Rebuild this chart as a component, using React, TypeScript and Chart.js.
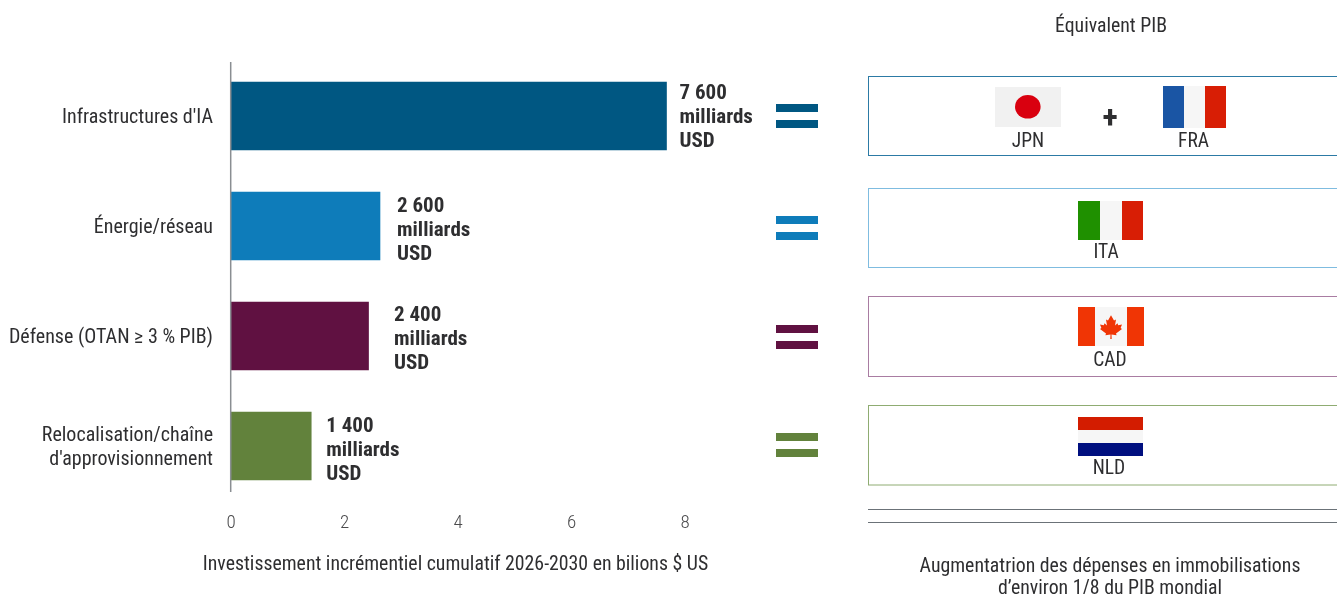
import React, { useEffect, useRef } from "react";
import { Chart, registerables } from "chart.js";

Chart.register(...registerables);

const categories: (string | string[])[] = [
  "Infrastructures d'IA",
  "Énergie/réseau",
  "Défense (OTAN ≥ 3 % PIB)",
  ["Relocalisation/chaîne", "d'approvisionnement"],
];
const investment = [7.6, 2.6, 2.4, 1.4];
const valueLabels = ["7 600", "2 600", "2 400", "1 400"];
const unitLines = ["milliards", "USD"];
const barColors = ["#005782", "#0e7cba", "#601141", "#62823c"];
const boxBorders = ["#2c7aa5", "#7fbce0", "#a97ca2", "#8fac72"];
const axisTitle = "Investissement incrémentiel cumulatif 2026-2030 en bilions $ US";
const rightHeader = "Équivalent PIB";
const rightFooter = ["Augmentatrion des dépenses en immobilisations", "d’environ 1/8 du PIB mondial"];
const FONT = '"Roboto Condensed", Roboto, sans-serif';
const TEXT = "#2e2e30";
const AXIS_TEXT_SHIFT = 1.5;

function rect(ctx: CanvasRenderingContext2D, c: string, x0: number, y0: number, x1: number, y1: number) {
  ctx.fillStyle = c;
  ctx.fillRect(x0, y0, x1 - x0, y1 - y0);
}
function label(ctx: CanvasRenderingContext2D, t: string, x: number, y: number, font = `400 19.8px ${FONT}`, align: CanvasTextAlign = "center", color = TEXT) {
  ctx.font = font;
  ctx.fillStyle = color;
  ctx.textAlign = align;
  ctx.textBaseline = "middle";
  ctx.fillText(t, x, y);
}
const leaf = [
  [0, -13], [-3, -7.5], [-5, -8.5], [-4, -2], [-6.5, -4.5], [-7.2, -2.5], [-11, -3.2], [-9.6, 0.6], [-11, 1.5],
  [-5, 6.3], [-5.6, 8.2], [-0.5, 7.4], [-0.7, 12], [0.7, 12], [0.5, 7.4], [5.6, 8.2], [5, 6.3], [11, 1.5],
  [9.6, 0.6], [11, -3.2], [7.2, -2.5], [6.5, -4.5], [4, -2], [5, -8.5], [3, -7.5],
];

const artwork = {
  id: "artwork",
  beforeDraw(chart: any) {
    chart.ctx.fontStretch = "condensed";
    chart.ctx.translate(0, AXIS_TEXT_SHIFT);
  },
  beforeDatasetsDraw(chart: any) {
    chart.ctx.translate(0, -AXIS_TEXT_SHIFT);
  },
  afterDraw(chart: any) {
    const ctx: CanvasRenderingContext2D = chart.ctx;
    ctx.save();
    ctx.fontStretch = "condensed";
    const bars = chart.getDatasetMeta(0).data;
    // axis line
    ctx.strokeStyle = "#8a8e92";
    ctx.lineWidth = 1.5;
    ctx.beginPath();
    ctx.moveTo(230.7, 62);
    ctx.lineTo(230.7, 492);
    ctx.stroke();

    // axis title
    label(ctx, axisTitle, 455.5, 565.5);

    // value labels
    const gaps = [13, 17, 25.5, 15];
    const targets = [118, 231, 340, 451];
    bars.forEach((b: any, i: number) => {
      const x = b.x + gaps[i];
      const y = targets[i];
      const f = `700 21px ${FONT}`;
      label(ctx, valueLabels[i], x, y - 24, f, "left");
      label(ctx, unitLines[0], x, y, f, "left");
      label(ctx, unitLines[1], x, y + 24, f, "left");
    });

    // equals signs
    [116, 228, 337, 445].forEach((c, i) => {
      rect(ctx, barColors[i], 776, c - 12, 818, c - 4);
      rect(ctx, barColors[i], 776, c + 4, 818, c + 12);
    });

    // boxes
    const boxes = [[76.5, 155.5], [188.5, 267.5], [296.5, 376.5], [405.5, 485]];
    boxes.forEach(([t, b], i) => {
      ctx.strokeStyle = boxBorders[i];
      ctx.lineWidth = 1;
      ctx.strokeRect(868.5, t, 600, b - t);
    });
    ctx.strokeStyle = "#6b7278";
    ctx.lineWidth = 1;
    [509.5, 522.5].forEach((y) => {
      ctx.beginPath();
      ctx.moveTo(868, y);
      ctx.lineTo(1337, y);
      ctx.stroke();
    });

    // Japan
    rect(ctx, "#f1f1f1", 995, 87, 1061, 127);
    ctx.fillStyle = "#d9000f";
    ctx.beginPath();
    ctx.ellipse(1027.8, 106.8, 12.8, 11.8, 0, 0, Math.PI * 2);
    ctx.fill();
    // France
    rect(ctx, "#1a55a4", 1163, 86, 1184, 128);
    rect(ctx, "#f6f6f6", 1184, 86, 1205, 128);
    rect(ctx, "#d81e05", 1205, 86, 1226, 128);
    // Italy
    rect(ctx, "#1f9000", 1078, 201, 1100, 240);
    rect(ctx, "#f6f6f6", 1100, 201, 1122, 240);
    rect(ctx, "#d81e05", 1122, 201, 1143, 240);
    // Canada
    rect(ctx, "#f03505", 1078, 307, 1095, 346);
    rect(ctx, "#f6f6f6", 1095, 307, 1127, 346);
    rect(ctx, "#f03505", 1127, 307, 1144, 346);
    ctx.fillStyle = "#f03505";
    ctx.beginPath();
    leaf.forEach(([x, y], i) => {
      const px = 1111 + x;
      const py = 327.5 + y * 0.95;
      i ? ctx.lineTo(px, py) : ctx.moveTo(px, py);
    });
    ctx.closePath();
    ctx.fill();
    // Netherlands
    rect(ctx, "#d31c00", 1078, 417, 1143, 430);
    rect(ctx, "#f6f6f6", 1078, 430, 1143, 443);
    rect(ctx, "#000f7f", 1078, 443, 1143, 456);

    // country codes
    const code = `400 19.5px ${FONT}`;
    label(ctx, "JPN", 1028, 142, code);
    label(ctx, "FRA", 1193.5, 142, code);
    label(ctx, "ITA", 1106, 253, code);
    label(ctx, "CAD", 1110, 361, code);
    label(ctx, "NLD", 1109, 469, code);
    label(ctx, "+", 1110, 120, `700 32px ${FONT}`);

    label(ctx, rightHeader, 1111, 27);
    label(ctx, rightFooter[0], 1110, 567);
    label(ctx, rightFooter[1], 1110, 589);
    ctx.restore();
  },
};

export default function App() {
  const ref = useRef<HTMLCanvasElement>(null);
  useEffect(() => {
    document.body.style.margin = "0";
    document.body.style.overflow = "hidden";
    const chart = new Chart(ref.current!, {
      type: "bar",
      data: {
        labels: categories as any,
        datasets: [
          {
            data: investment,
            backgroundColor: barColors,
            barThickness: 68,
            xAxisID: "x",
            yAxisID: "y",
          },
        ],
      },
      options: {
        indexAxis: "y",
        animation: false,
        responsive: false,
        devicePixelRatio: 1,
        layout: { padding: { top: 61, right: 652, left: 0, bottom: 0 } },
        plugins: { legend: { display: false }, tooltip: { enabled: false }, title: { display: false } },
        scales: {
          x: { type: "linear", min: 0, max: 7.923, display: false },
          axisTicks: {
            type: "linear",
            position: "bottom",
            axis: "x",
            min: 0,
            max: 8,
            grid: { display: false },
            border: { display: false },
            ticks: {
              stepSize: 2,
              padding: 1,
              maxRotation: 0,
              color: "#4a4a4c",
              font: { family: FONT, size: 19, weight: "300" },
            },
            afterFit(s: any) {
              s.height = 93;
            },
          },
          y: {
            type: "category",
            position: "left",
            grid: { display: false },
            border: { display: false },
            ticks: {
              padding: 10,
              color: TEXT,
              font: { family: FONT, size: 20, weight: "400" },
            },
            afterFit(s: any) {
              s.width = 231;
            },
          },
        } as any,
      },
      plugins: [artwork],
    } as any);
    return () => chart.destroy();
  }, []);
  return (
    <div style={{ position: "absolute", left: 0, top: 0, width: 1337, height: 594, background: "#fff" }}>
      <canvas ref={ref} width={1337} height={594} style={{ display: "block" }} />
    </div>
  );
}
